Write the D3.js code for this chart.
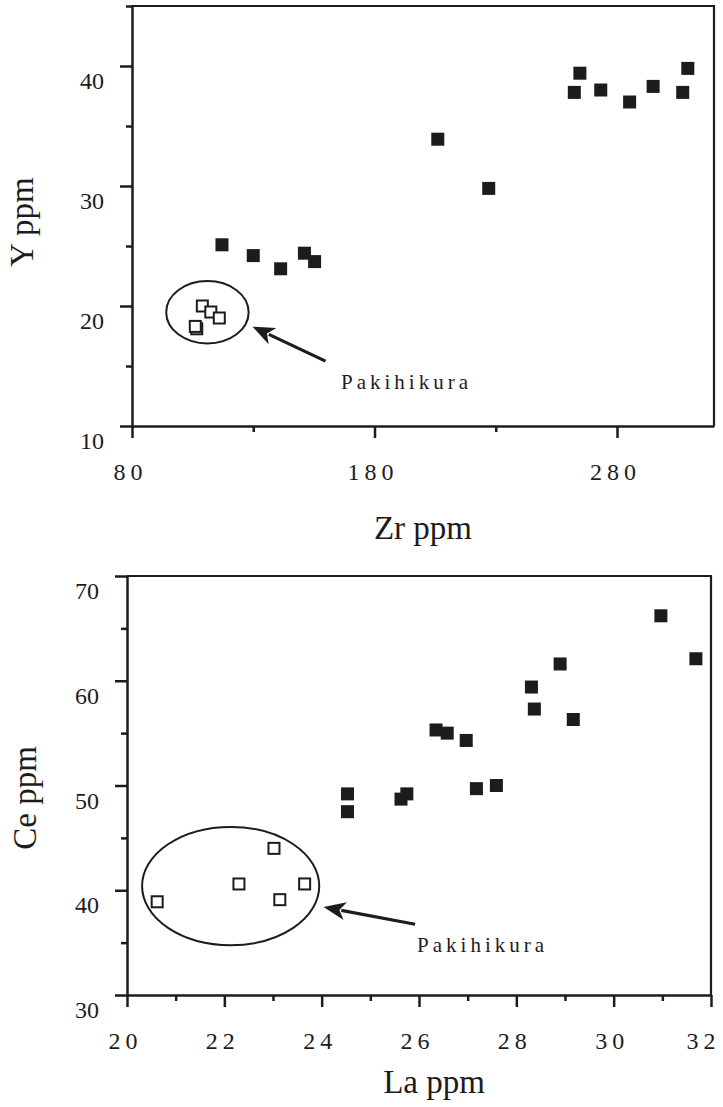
<!DOCTYPE html>
<html><head><meta charset="utf-8">
<script src="https://cdn.jsdelivr.net/npm/d3@7"></script>
<style>body{margin:0;background:#fff}svg{display:block}</style>
</head><body><svg id="c" width="723" height="1107"></svg>
<script>
// ---- Top panel data (Zr vs Y) ----
const zrFilled = [117.1,130.0,141.3,151.1,155.3,206.1,227.1,262.4,264.7,273.3,285.2,294.9,307.1,309.2];
const yFilled  = [25.1, 24.2, 23.1, 24.4, 23.7, 33.9, 29.8, 37.8, 39.4, 38.0, 37.0, 38.3, 37.8, 39.8];
const zrOpen   = [109.0,112.5,116.0,106.7,106.1];
const yOpen    = [20.0, 19.5, 19.0, 18.1, 18.3];
const zrMajor = [80,180,280], zrMinor = [130,230];
const yMajor  = [10,20,30,40], yMinor = [15,25,35,45];

// ---- Bottom panel data (La vs Ce) ----
const laFilled = [30.97,31.69,28.90,28.31,28.37,29.17,26.35,26.58,26.97,27.18,27.59,24.53,24.53,25.63,25.75];
const ceFilled = [66.2, 62.1, 61.6, 59.4, 57.3, 56.3, 55.3, 55.0, 54.3, 49.7, 50.0, 49.2, 47.5, 48.7, 49.2];
const laOpen   = [20.62,22.30,23.02,23.14,23.65];
const ceOpen   = [38.9, 40.6, 44.0, 39.1, 40.6];
const laMajor = [20,22,24,26,28,30,32], laMinor = [21,23,25,27,29,31];
const ceMajor = [30,40,50,60,70], ceMinor = [35,45,55,65];

const groupLabel = "Pakihikura";

const svg = d3.select("#c");
svg.append("rect").attr("width",723).attr("height",1107).attr("fill","#fff");
const INK = "#1c1c1c";

function panel(o){
  const x = d3.scaleLinear().domain(o.xDom).range([o.L,o.R]);
  const y = d3.scaleLinear().domain(o.yDom).range([o.B,o.T]);
  const g = svg.append("g");
  g.append("path").attr("d",`M${o.L},${o.T}H${o.R}V${o.B}`)
    .attr("fill","none").attr("stroke",INK).attr("stroke-width",2.2);
  const xa = g.append("g").attr("transform",`translate(0,${o.B})`)
    .call(d3.axisBottom(x).tickValues(o.xMaj).tickSize(12).tickSizeOuter(0).tickPadding(25).tickFormat(d3.format("d")));
  const xm = g.append("g").attr("transform",`translate(0,${o.B})`)
    .call(d3.axisBottom(x).tickValues(o.xMin).tickSize(6).tickSizeOuter(0).tickFormat(""));
  xm.select(".domain").remove();
  const ya = g.append("g").attr("transform",`translate(${o.L},0)`)
    .call(d3.axisLeft(y).tickValues(o.yMaj).tickSize(12).tickSizeOuter(0).tickPadding(16).tickFormat(d3.format("d")));
  const ym = g.append("g").attr("transform",`translate(${o.L},0)`)
    .call(d3.axisLeft(y).tickValues(o.yMin).tickSize(6).tickSizeOuter(0).tickFormat(""));
  ym.select(".domain").remove();
  [xa,xm,ya,ym].forEach(a=>{
    a.selectAll("path,line").attr("stroke",INK).attr("stroke-width",2.5);
  });
  xa.selectAll("text").attr("fill",INK).attr("font-family","Liberation Serif")
    .attr("font-size",24).attr("dx",-2).style("letter-spacing", o.xSpace+"px");
  // keep the last label inside the page edge
  xa.selectAll("text").filter(d=>x(d) > 700).attr("text-anchor","end").attr("dx",9);
  ya.selectAll("text").attr("fill",INK).attr("font-family","Liberation Serif")
    .attr("font-size",24).attr("y",15);
  g.append("text").attr("x",o.xtX).attr("y",o.xtY).attr("text-anchor","middle")
    .attr("font-family","Liberation Serif").attr("font-size",33).attr("fill",INK).text(o.xTitle);
  g.append("text").attr("transform",`translate(${o.ytX},${o.ytY}) rotate(-90)`).attr("text-anchor","middle")
    .attr("font-family","Liberation Serif").attr("font-size",33).attr("fill",INK).text(o.yTitle);
  const a = o.ann;
  g.append("ellipse").attr("cx",x(a.ex)).attr("cy",y(a.ey))
    .attr("rx",Math.abs(x(a.ex+a.erx)-x(a.ex))).attr("ry",Math.abs(y(a.ey+a.ery)-y(a.ey)))
    .attr("fill","none").attr("stroke",INK).attr("stroke-width",2);
  const tx=x(a.tipX), ty=y(a.tipY), sx=x(a.tailX), sy=y(a.tailY);
  const ang=Math.atan2(ty-sy,tx-sx), hl=22, hw=9;
  const bx=tx-hl*Math.cos(ang), by=ty-hl*Math.sin(ang);
  g.append("line").attr("x1",sx).attr("y1",sy).attr("x2",bx+4*Math.cos(ang)).attr("y2",by+4*Math.sin(ang))
    .attr("stroke",INK).attr("stroke-width",3.2);
  const px=-Math.sin(ang), py=Math.cos(ang);
  g.append("path").attr("d",`M${tx},${ty}L${bx+hw*px},${by+hw*py}L${bx+6*Math.cos(ang)},${by+6*Math.sin(ang)}L${bx-hw*px},${by-hw*py}Z`)
    .attr("fill",INK);
  g.append("text").attr("x",x(a.textX)).attr("y",y(a.textY))
    .attr("font-family","Liberation Serif").attr("font-size",21).style("letter-spacing","4px")
    .attr("fill",INK).text(groupLabel);
  const fs=13, os=11;
  g.selectAll(".f").data(o.fx.map((v,i)=>[v,o.fy[i]])).enter().append("rect")
    .attr("x",d=>x(d[0])-fs/2).attr("y",d=>y(d[1])-fs/2).attr("width",fs).attr("height",fs).attr("fill",INK);
  g.selectAll(".o").data(o.ox.map((v,i)=>[v,o.oy[i]])).enter().append("rect")
    .attr("x",d=>x(d[0])-os/2).attr("y",d=>y(d[1])-os/2).attr("width",os).attr("height",os)
    .attr("fill","#fff").attr("stroke",INK).attr("stroke-width",2);
}

panel({L:132,R:714,T:6,B:426,xDom:[80,320],yDom:[10,45],
  xMaj:zrMajor,xMin:zrMinor,yMaj:yMajor,yMin:yMinor,xSpace:5,
  xTitle:"Zr ppm",yTitle:"Y ppm",xtX:423,xtY:539,ytX:33,ytY:222,
  fx:zrFilled,fy:yFilled,ox:zrOpen,oy:yOpen,
  ann:{ex:111.1,ey:19.48,erx:17,ery:2.6,tipX:129.7,tipY:18.27,tailX:159.8,tailY:15.41,textX:166.2,textY:13.1}});

panel({L:127,R:711,T:576,B:995,xDom:[20,32],yDom:[30,70],
  xMaj:laMajor,xMin:laMinor,yMaj:ceMajor,yMin:ceMinor,xSpace:5,
  xTitle:"La ppm",yTitle:"Ce ppm",xtX:434,xtY:1093,ytX:36,ytY:798,
  fx:laFilled,fy:ceFilled,ox:laOpen,oy:ceOpen,
  ann:{ex:22.13,ey:40.4,erx:1.82,ery:5.65,tipX:24.04,tipY:38.4,tailX:25.92,tailY:36.75,textX:25.96,textY:34.1}});
</script></body></html>
